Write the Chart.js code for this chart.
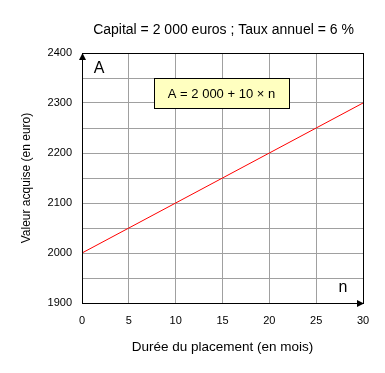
<!DOCTYPE html>
<html>
<head>
<meta charset="utf-8">
<script src="https://cdn.jsdelivr.net/npm/chart.js@4"></script>
<style>
  html, body { margin: 0; padding: 0; background: #fff; }
  #wrap { width: 385px; height: 373px; }
</style>
</head>
<body>
<div id="wrap"><canvas id="c" width="385" height="373"></canvas></div>
<script>
// données
const months = [0, 5, 10, 15, 20, 25, 30];
const values = [2000, 2050, 2100, 2150, 2200, 2250, 2300];
const yTickLabels = [1900, 2000, 2100, 2200, 2300, 2400];
const xTickLabels = [0, 5, 10, 15, 20, 25, 30];

const FONT = 'Liberation Sans, Arial, sans-serif';

// cadre, flèches, titre, lettres A / n et encadré de la formule
const decor = {
    id: 'decor',
    afterDraw(chart) {
        const ctx = chart.ctx;
        const a = chart.chartArea;
        ctx.save();
        ctx.strokeStyle = '#000';
        ctx.lineWidth = 1;
        ctx.strokeRect(Math.round(a.left) + 0.5, Math.round(a.top) + 0.5,
            Math.round(a.right - a.left), Math.round(a.bottom - a.top));

        // flèches
        ctx.fillStyle = '#000';
        const lx = Math.round(a.left) + 0.5;
        const by = Math.round(a.bottom) + 0.5;
        ctx.beginPath();
        ctx.moveTo(lx, a.top);
        ctx.lineTo(lx - 3.5, a.top + 7);
        ctx.lineTo(lx + 3.5, a.top + 7);
        ctx.closePath();
        ctx.fill();
        ctx.beginPath();
        ctx.moveTo(a.right + 1, by);
        ctx.lineTo(a.right - 6, by - 3.5);
        ctx.lineTo(a.right - 6, by + 3.5);
        ctx.closePath();
        ctx.fill();

        // titre
        ctx.fillStyle = '#000';
        ctx.textAlign = 'center';
        ctx.textBaseline = 'middle';
        ctx.font = '14px ' + FONT;
        ctx.fillText('Capital = 2 000 euros ; Taux annuel = 6 %', (a.left + a.right) / 2 + 1, 30);

        // lettres des axes
        ctx.font = '16px ' + FONT;
        ctx.fillText('A', a.left + 17, a.top + 16);
        ctx.fillText('n', a.right - 20, a.bottom - 15);

        // encadré formule
        ctx.fillStyle = '#ffffc0';
        ctx.fillRect(154, 78, 135, 30);
        ctx.strokeStyle = '#000';
        ctx.strokeRect(154.5, 78.5, 135, 30);
        ctx.fillStyle = '#000';
        ctx.font = '13px ' + FONT;
        ctx.fillText('A = 2 000 + 10 \u00d7 n', 221.5, 94);
        ctx.restore();
    }
};

new Chart(document.getElementById('c'), {
    type: 'line',
    data: {
        datasets: [{
            data: months.map((m, i) => ({ x: m, y: values[i] })),
            borderColor: '#ff0000',
            borderWidth: 1,
            pointRadius: 0,
            fill: false,
            tension: 0
        }]
    },
    options: {
        responsive: false,
        animation: false,
        layout: { padding: { top: 53, right: 22, left: 0, bottom: 0 } },
        plugins: { legend: { display: false }, tooltip: { enabled: false } },
        scales: {
            x: {
                type: 'linear',
                min: 0,
                max: 30,
                afterFit(s) { s.height = 70; },
                grid: { color: '#a0a0a0', drawTicks: false },
                border: { color: '#000' },
                ticks: {
                    stepSize: 5,
                    padding: 11,
                    color: '#000',
                    font: { family: FONT, size: 11 },
                    maxRotation: 0,
                    callback: v => xTickLabels.includes(v) ? String(v) : ''
                },
                title: {
                    display: true,
                    text: 'Durée du placement (en mois)',
                    color: '#000',
                    font: { family: FONT, size: 13.5 },
                    padding: { top: 0, bottom: 18 }
                }
            },
            y: {
                min: 1900,
                max: 2400,
                afterFit(s) { s.width = 82; },
                grid: { color: '#a0a0a0', drawTicks: false },
                border: { color: '#000' },
                ticks: {
                    stepSize: 50,
                    padding: 10,
                    color: '#000',
                    font: { family: FONT, size: 11 },
                    callback: v => yTickLabels.includes(v) ? String(v) : ''
                },
                title: {
                    display: true,
                    text: 'Valeur acquise (en euro)',
                    color: '#000',
                    font: { family: FONT, size: 12 },
                    padding: { top: 19, bottom: 0 }
                }
            }
        }
    },
    plugins: [decor]
});
</script>
</body>
</html>
